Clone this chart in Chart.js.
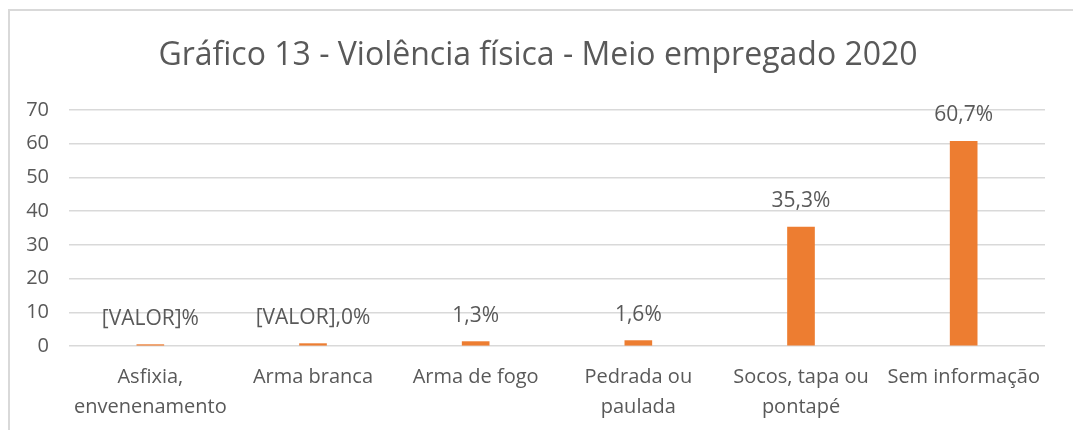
<!DOCTYPE html>
<html>
<head>
<meta charset="utf-8">
<script src="https://cdn.jsdelivr.net/npm/chart.js@4/dist/chart.umd.min.js"></script>
<style>
  html, body { margin: 0; padding: 0; background: #fff; overflow: hidden; }
  #wrap { position: relative; width: 1073px; height: 430px; }
  #frame {
    position: absolute; left: 8px; top: 9px; width: 1200px; height: 600px;
    border-left: 2px solid #d9d9d9; border-top: 2px solid #d9d9d9;
    pointer-events: none;
  }
</style>
</head>
<body>
<div id="wrap">
  <canvas id="chart" width="1073" height="430"></canvas>
  <div id="frame"></div>
</div>
<script>
// Chart data
const chartTitle = 'Gráfico 13 - Violência física - Meio empregado 2020';
const categories = [
    ['Asfixia,', 'envenenamento'],
    'Arma branca',
    'Arma de fogo',
    ['Pedrada ou', 'paulada'],
    ['Socos, tapa ou', 'pontapé'],
    'Sem informação'
];
const values = [0.4, 0.7, 1.3, 1.6, 35.3, 60.7];
const valueLabels = ['[VALOR]%', '[VALOR],0%', '1,3%', '1,6%', '35,3%', '60,7%'];
const yTicks = [0, 10, 20, 30, 40, 50, 60, 70];

const textColor = '#595959';
const fontFamily = '"Open Sans", "Liberation Sans", sans-serif';

// Title centred on the framed box rather than on the chart area
const titleText = {
    id: 'titleText',
    afterDraw(chart) {
        const ctx = chart.ctx;
        ctx.save();
        ctx.font = '32px ' + fontFamily;
        ctx.fillStyle = textColor;
        ctx.textAlign = 'center';
        ctx.textBaseline = 'middle';
        ctx.fillText(chartTitle, 538, 56);
        ctx.restore();
    }
};

// Draws the value labels above each bar
const barLabels = {
    id: 'barLabels',
    afterDatasetsDraw(chart) {
        const ctx = chart.ctx;
        const meta = chart.getDatasetMeta(0);
        ctx.save();
        ctx.font = '21px ' + fontFamily;
        ctx.fillStyle = textColor;
        ctx.textAlign = 'center';
        ctx.textBaseline = 'middle';
        meta.data.forEach((bar, i) => {
            ctx.fillText(valueLabels[i], bar.x, bar.y - 26);
        });
        ctx.restore();
    }
};

new Chart(document.getElementById('chart'), {
    type: 'bar',
    data: {
        labels: categories,
        datasets: [{
            data: values,
            backgroundColor: '#ED7D31',
            barThickness: 27
        }]
    },
    options: {
        responsive: false,
        animation: false,
        layout: { padding: { left: 8, right: 28, top: 110, bottom: 0 } },
        plugins: {
            legend: { display: false },
            tooltip: { enabled: false },
            title: { display: false }
        },
        scales: {
            x: {
                grid: { display: false, drawTicks: false },
                border: { display: false },
                ticks: {
                    color: textColor,
                    font: { family: fontFamily, size: 20, lineHeight: 1.5 },
                    padding: 16,
                    maxRotation: 0,
                    autoSkip: false
                },
                afterFit(scale) { scale.height = 84; }
            },
            y: {
                min: 0,
                max: 70,
                afterBuildTicks(scale) { scale.ticks = yTicks.map(v => ({ value: v })); },
                grid: { color: '#d9d9d9', lineWidth: 1.5, drawTicks: false },
                border: { display: false },
                ticks: {
                    color: textColor,
                    font: { family: fontFamily, size: 20 },
                    padding: 20
                },
                afterFit(scale) { scale.width = 61; }
            }
        }
    },
    plugins: [barLabels, titleText]
});
</script>
</body>
</html>
